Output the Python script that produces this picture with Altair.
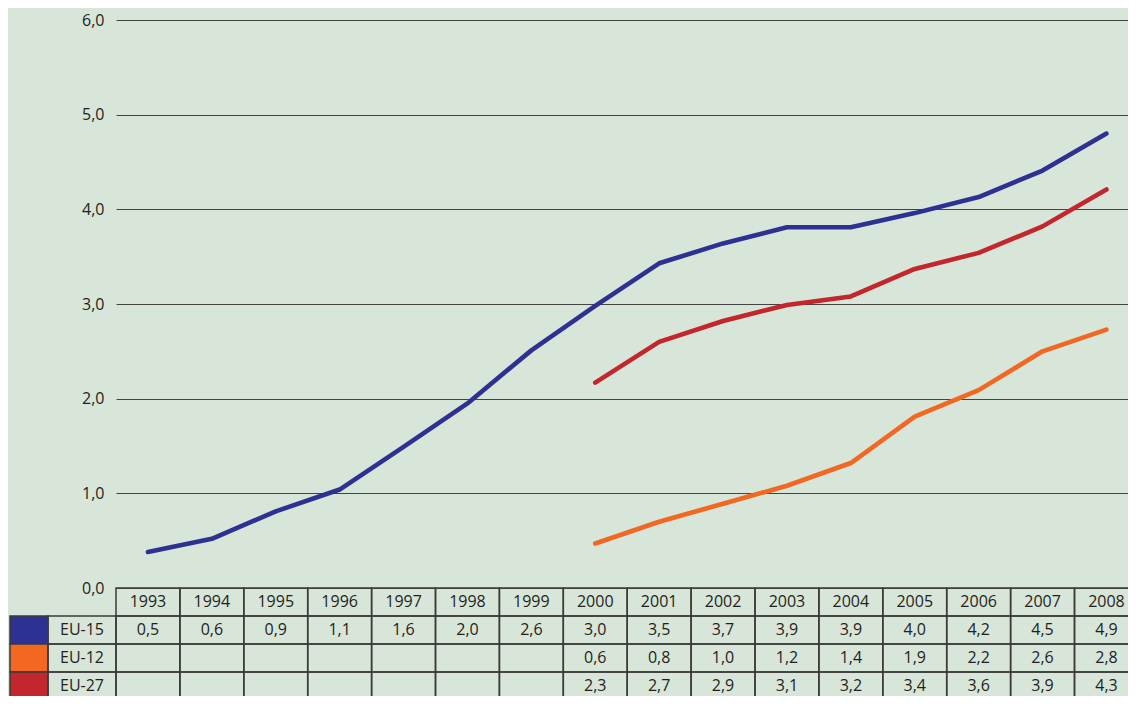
import altair as alt
import pandas as pd

# ---------------- data ----------------
years = list(range(1993, 2009))
series = ["EU-15", "EU-12", "EU-27"]
colors = ["#2e3192", "#f26722", "#c4262e"]

# values printed in the table
eu15_table = [0.5, 0.6, 0.9, 1.1, 1.6, 2.0, 2.6, 3.0, 3.5, 3.7, 3.9, 3.9, 4.0, 4.2, 4.5, 4.9]
eu12_table = [None] * 7 + [0.6, 0.8, 1.0, 1.2, 1.4, 1.9, 2.2, 2.6, 2.8]
eu27_table = [None] * 7 + [2.3, 2.7, 2.9, 3.1, 3.2, 3.4, 3.6, 3.9, 4.3]

# values as drawn by the lines
eu15_line = [0.38, 0.52, 0.81, 1.04, 1.49, 1.95, 2.51, 2.98, 3.43, 3.64, 3.81, 3.81, 3.96, 4.13, 4.41, 4.80]
eu12_line = [None] * 7 + [0.47, 0.70, 0.89, 1.08, 1.32, 1.81, 2.09, 2.50, 2.73]
eu27_line = [None] * 7 + [2.17, 2.60, 2.82, 2.99, 3.08, 3.37, 3.54, 3.82, 4.21]

y_ticks = [0, 1, 2, 3, 4, 5, 6]

# ---------------- layout constants ----------------
FONT = "Open Sans"
TXT = "#231f20"
BORDER = "#3a3a3a"
BG = "#d8e5d9"
W, H = 1012, 676       # keeps the whole page inside the 1136x704 window
PX_X = 63.9            # pixels per year column
PX_Y = 568 / 6.0       # pixels per unit on the value axis
ROW = 28 / PX_Y        # table row height in value units
x_lo = 1992.5
x_hi = x_lo + W / PX_X
y_hi = 6.0
y_lo = -(H - 568) / PX_Y
label_left = x_lo - 106 / PX_X
swatch_right = x_lo - 68 / PX_X

xs = alt.Scale(domain=[x_lo, x_hi], nice=False, zero=False)
ys = alt.Scale(domain=[y_lo, y_hi], nice=False, zero=False)

y_axis = alt.Axis(
    values=y_ticks,
    grid=True,
    gridColor="#444444",
    gridWidth=1.2,
    domain=False,
    ticks=False,
    labelPadding=12,
    labelFont=FONT,
    labelFontSize=16,
    labelColor=TXT,
    labelExpr="replace(format(datum.value, '.1f'), '.', ',')",
    title=None,
)

def fmt(v):
    return f"{v:.1f}".replace(".", ",")

# ---------------- line data ----------------
line_rows = []
for name, vals in zip(series, [eu15_line, eu12_line, eu27_line]):
    for yr, v in zip(years, vals):
        if v is not None:
            line_rows.append({"x": yr, "y": v, "series": name})
line_df = pd.DataFrame(line_rows)

# ---------------- table data ----------------
cells, swatches, texts = [], [], []
# header row
for yr in years:
    cells.append({"x": yr - 0.5, "x2": yr + 0.5, "y": 0.0, "y2": -ROW})
    texts.append({"x": yr, "y": -ROW / 2, "t": str(yr)})
for i, (name, vals) in enumerate(zip(series, [eu15_table, eu12_table, eu27_table])):
    top = -ROW * (i + 1)
    bot = -ROW * (i + 2)
    swatches.append({"x": label_left, "x2": swatch_right, "y": top, "y2": bot, "series": name})
    cells.append({"x": swatch_right, "x2": x_lo, "y": top, "y2": bot})
    texts.append({"x": (swatch_right + x_lo) / 2, "y": (top + bot) / 2, "t": name})
    for yr, v in zip(years, vals):
        cells.append({"x": yr - 0.5, "x2": yr + 0.5, "y": top, "y2": bot})
        if v is not None:
            texts.append({"x": yr, "y": (top + bot) / 2, "t": fmt(v)})
cells_df = pd.DataFrame(cells)
sw_df = pd.DataFrame(swatches)
txt_df = pd.DataFrame(texts)

color_scale = alt.Scale(domain=series, range=colors)

X = alt.X("x:Q", scale=xs, axis=None)
Y = alt.Y("y:Q", scale=ys, axis=y_axis)

lines = alt.Chart(line_df).mark_line(
    strokeWidth=4.6, strokeCap="round", strokeJoin="round"
).encode(
    x=X,
    y=Y,
    color=alt.Color("series:N", scale=color_scale, legend=None),
    detail="series:N",
)

sw = alt.Chart(sw_df).mark_rect(stroke=BORDER, strokeWidth=1.5).encode(
    x=X,
    x2="x2:Q",
    y=Y,
    y2="y2:Q",
    fill=alt.Fill("series:N", scale=color_scale, legend=None),
)

grid_cells = alt.Chart(cells_df).mark_rect(
    fillOpacity=0, stroke=BORDER, strokeWidth=1.5
).encode(
    x=X,
    x2="x2:Q",
    y=Y,
    y2="y2:Q",
)

labels = alt.Chart(txt_df).mark_text(
    font=FONT, fontSize=16, color=TXT, align="center", baseline="middle"
).encode(
    x=X,
    y=Y,
    text="t:N",
)

chart = alt.layer(lines, sw, grid_cells, labels).properties(
    width=W,
    height=H,
    padding={"left": 108, "top": 12, "right": 0, "bottom": 0},
    autosize=alt.AutoSizeParams(type="none"),
    background=BG,
).configure_view(stroke=None)

chart.save("out.html", embed_options={"renderer": "svg", "actions": False})
